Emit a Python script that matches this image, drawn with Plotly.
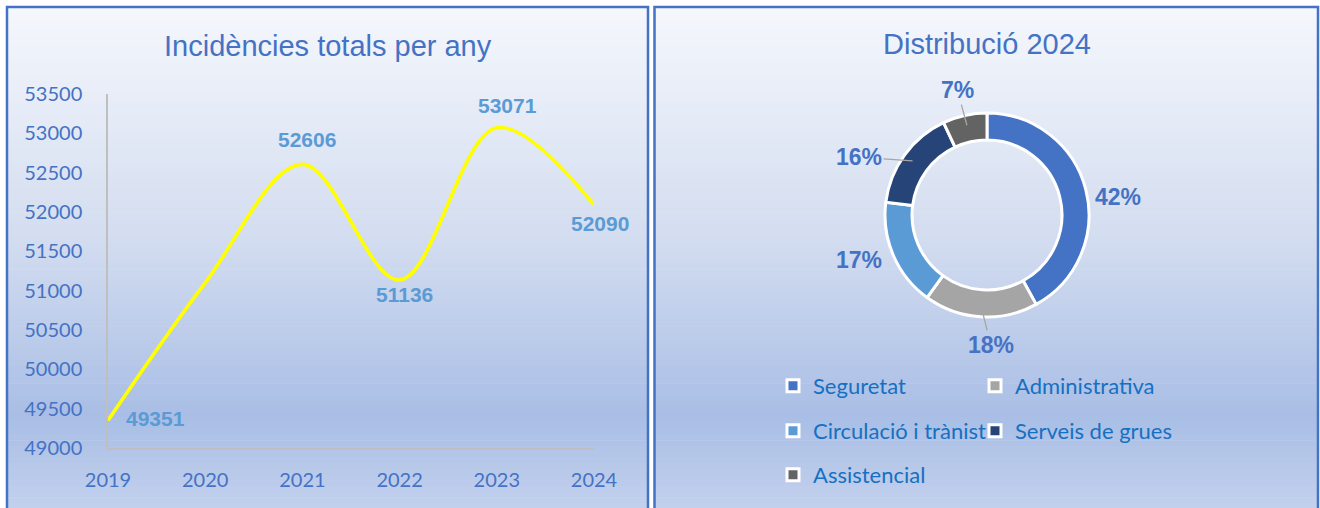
import math
import plotly.graph_objects as go

# ---------------- data ----------------
years = [2019, 2020, 2021, 2022, 2023, 2024]
incidencies = [49351, 51100, 52606, 51136, 53071, 52090]
label_shown = [True, False, True, True, True, True]

y_ticks = [49000, 49500, 50000, 50500, 51000, 51500, 52000, 52500, 53000, 53500]

categories = ["Seguretat", "Administrativa", "Circulació i trànist", "Serveis de grues", "Assistencial"]
shares = [42, 18, 17, 16, 7]
cat_colors = ["#4472C4", "#A5A5A5", "#5B9BD5", "#264478", "#636363"]

title_left = "Incidències totals per any"
title_right = "Distribució 2024"

# ---------------- style (label offsets in px, legend rows, leader lines) ----------------
line_label_style = [  # (xanchor, xshift, yshift)
    ("left", 16, 2), ("center", 0, 0), ("center", 5, 25),
    ("center", 5, -15), ("center", 11, 22), ("center", 6, -19),
]
legend_rows = ["legend", "legend", "legend2", "legend2", "legend3"]
leader_line = [False, True, False, True, True]
pct_nudge = [(4, 15), (12, -1), (-8, -7), (-22, 19), (-1, 3)]  # px nudges of donut labels

# ---------------- geometry helpers ----------------
W, H = 1320, 508
def px(x):
    return x / W
def py(y):
    return 1 - y / H

BLUE = "#4472C4"
LBLUE = "#5B9BD5"
LEG = "#1670C2"
TICKFONT = dict(family="Lato, Open Sans, sans-serif", size=20, color=BLUE)
PCTFONT = dict(family="Liberation Sans, Arial, sans-serif", size=23, color=BLUE, weight="bold")

fig = go.Figure()

# line chart
fig.add_trace(go.Scatter(
    x=years, y=incidencies,
    mode="lines",
    line=dict(color="#FFFF00", width=3.6, shape="spline", smoothing=1.0),
    cliponaxis=False, showlegend=False, hoverinfo="x+y",
))

# donut
PIE_CX, PIE_CY, PIE_R = 987, 215, 102
fig.add_trace(go.Pie(
    labels=categories, values=shares,
    sort=False, direction="clockwise", rotation=0,
    hole=0.735, automargin=False,
    marker=dict(colors=cat_colors, line=dict(color="white", width=3)),
    textinfo="none",
    domain=dict(x=[px(PIE_CX - PIE_R), px(PIE_CX + PIE_R)], y=[py(PIE_CY + PIE_R), py(PIE_CY - PIE_R)]),
    showlegend=False, hoverinfo="label+percent",
))

# legend entries (grid of 2 columns)
for cat, col, lg in zip(categories, cat_colors, legend_rows):
    fig.add_trace(go.Scatter(
        x=[None], y=[None], mode="markers", name=cat, legend=lg,
        marker=dict(symbol="square", size=12, color=col, line=dict(color="white", width=3)),
        hoverinfo="skip",
    ))

annotations = [
    dict(text=title_left, xref="paper", yref="paper", x=px(328), y=py(46),
         xanchor="center", yanchor="middle", showarrow=False,
         font=dict(family="Liberation Sans, Arial, sans-serif", size=29, color=BLUE)),
    dict(text=title_right, xref="paper", yref="paper", x=px(987), y=py(44),
         xanchor="center", yanchor="middle", showarrow=False,
         font=dict(family="Liberation Sans, Arial, sans-serif", size=29, color=BLUE)),
]

# data labels of the line
for yr, v, show, (xa, xs, ys) in zip(years, incidencies, label_shown, line_label_style):
    if not show:
        continue
    annotations.append(dict(text=str(v), x=yr, y=v, xref="x", yref="y", showarrow=False,
                            xanchor=xa, yanchor="middle", xshift=xs, yshift=ys,
                            font=dict(family="Liberation Sans, Arial, sans-serif", size=21,
                                      color=LBLUE, weight="bold")))

# percentage labels of the donut, placed along each slice's mid-angle
total = sum(shares)
cum = 0
R_LAB, R_TIP = 131, 92
for share, line, (nx, ny) in zip(shares, leader_line, pct_nudge):
    th = 2 * math.pi * (cum + share / 2) / total
    cum += share
    dx, dy = math.sin(th), -math.cos(th)
    txt = f"{round(100 * share / total)}%"
    lx, ly = PIE_CX + R_LAB * dx + nx, PIE_CY + R_LAB * dy + ny
    if line:
        tx, ty = PIE_CX + R_TIP * dx, PIE_CY + R_TIP * dy
        annotations.append(dict(text=txt, xref="paper", yref="paper", x=px(tx), y=py(ty),
                                showarrow=True, arrowhead=0, arrowwidth=1.3, arrowcolor="#A6A6A6",
                                ax=lx - tx, ay=ly - ty,
                                font=PCTFONT, standoff=0, startstandoff=0))
    else:
        annotations.append(dict(text=txt, xref="paper", yref="paper", x=px(lx), y=py(ly),
                                xanchor="center", yanchor="middle", showarrow=False, font=PCTFONT))

# background gradient bands + borders
stops = [(0.0, (245, 247, 252)), (0.45, (211, 221, 240)), (0.8, (169, 190, 229)), (1.0, (198, 211, 238))]
def grad(t):
    for (t0, c0), (t1, c1) in zip(stops[:-1], stops[1:]):
        if t <= t1:
            f = (t - t0) / (t1 - t0)
            return "rgb(%d,%d,%d)" % tuple(round(a + (b - a) * f) for a, b in zip(c0, c1))
    return "rgb(%d,%d,%d)" % stops[-1][1]

shapes = []
panels = [(7, 648), (654.5, 1318)]
top, bot = 7, 520
N = 90
for x0, x1 in panels:
    for i in range(N):
        ya = top + (bot - top) * i / N
        yb = top + (bot - top) * (i + 1) / N + 0.6
        shapes.append(dict(type="rect", xref="paper", yref="paper", layer="below",
                           x0=px(x0), x1=px(x1), y0=py(yb), y1=py(ya),
                           line=dict(width=0), fillcolor=grad((i + 0.5) / N)))
for x0, x1 in panels:
    shapes.append(dict(type="rect", xref="paper", yref="paper", layer="above",
                       x0=px(x0), x1=px(x1), y0=py(bot), y1=py(top),
                       line=dict(color=BLUE, width=2.5), fillcolor="rgba(0,0,0,0)"))

legend_common = dict(orientation="h", xanchor="left", yanchor="middle",
                     font=dict(family="Lato, Open Sans, sans-serif", size=22, color=LEG),
                     bgcolor="rgba(0,0,0,0)", borderwidth=0, entrywidth=157, entrywidthmode="pixels",
                     itemclick=False, itemdoubleclick=False)

fig.update_layout(
    template="none",
    width=W, height=H,
    margin=dict(l=0, r=0, t=0, b=0, pad=0, autoexpand=False),
    paper_bgcolor="white", plot_bgcolor="rgba(0,0,0,0)",
    shapes=shapes,
    xaxis=dict(domain=[px(108), px(594)], range=[2019, 2024],
               tickvals=years, ticktext=[str(y) for y in years],
               showgrid=False, zeroline=False, showline=True, linecolor="#BFBFBF", linewidth=1.5,
               ticks="", tickfont=TICKFONT, ticklabelstandoff=13, fixedrange=True, automargin=False),
    yaxis=dict(domain=[py(448), py(94)], range=[49000, 53500],
               tickvals=y_ticks, ticktext=[str(v) for v in y_ticks],
               showgrid=False, zeroline=False, showline=True, linecolor="#BFBFBF", linewidth=1.5,
               ticks="", tickfont=TICKFONT, ticklabelstandoff=20, fixedrange=True, automargin=False),
    legend=dict(x=px(773), y=py(386), **legend_common),
    legend2=dict(x=px(773), y=py(431), **legend_common),
    legend3=dict(x=px(773), y=py(475), **legend_common),
    annotations=annotations,
)

fig.write_html("out.html", config={"displayModeBar": False},
               post_script="document.body.style.margin='0';")
